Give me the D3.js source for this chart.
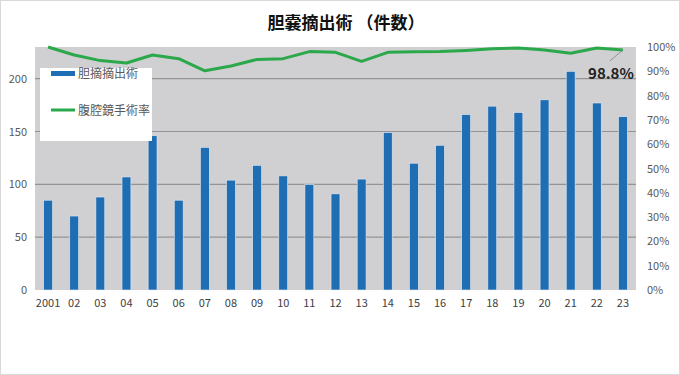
<!DOCTYPE html>
<html>
<head>
<meta charset="utf-8">
<script src="https://cdn.jsdelivr.net/npm/d3@7"></script>
<style>
  html, body { margin: 0; padding: 0; background: #fff; }
  svg { display: block; }
  text { font-family: "Noto Sans CJK JP", "Noto Sans", sans-serif; }
</style>
</head>
<body>
<svg id="chart" width="680" height="375"></svg>
<script>
// data
const years = ["2001","02","03","04","05","06","07","08","09","10","11","12",
               "13","14","15","16","17","18","19","20","21","22","23"];
const cases = [85, 70, 88, 107, 146, 85, 135, 104, 118, 108, 100, 91,
               105, 149, 120, 137, 166, 174, 168, 180, 207, 177, 164];
const laparoRate = [100, 96.7, 94.4, 93.4, 96.7, 95.2, 90.2, 92.2, 94.9, 95.2, 98.1, 97.8,
                    94.1, 97.8, 98.0, 98.1, 98.6, 99.3, 99.6, 98.8, 97.4, 99.6, 98.8];
const leftTicks = [0, 50, 100, 150, 200];
const rightTicks = [0, 10, 20, 30, 40, 50, 60, 70, 80, 90, 100];
const legendNames = ["胆摘摘出術", "腹腔鏡手術率"];

const svg = d3.select("#chart");
const W = 680, H = 375;
const plot = { left: 35, right: 636, top: 47, bottom: 290 };

// outer frame
svg.append("rect")
  .attr("x", 0.5).attr("y", 0.5)
  .attr("width", W - 1).attr("height", H - 1)
  .attr("fill", "#fff").attr("stroke", "#d9d9d9");

// title
svg.append("text")
  .attr("x", 346).attr("y", 29)
  .attr("text-anchor", "middle")
  .attr("font-size", 17).attr("font-weight", "bold")
  .attr("fill", "#111")
  .text("胆嚢摘出術 （件数）");

// scales
const x = d3.scaleBand().domain(years).range([plot.left, plot.right]);
const yL = d3.scaleLinear().domain([0, 230]).range([plot.bottom, plot.top]);
const yR = d3.scaleLinear().domain([0, 100]).range([plot.bottom, plot.top]);

// plot background
svg.append("rect")
  .attr("x", plot.left).attr("y", plot.top)
  .attr("width", plot.right - plot.left).attr("height", plot.bottom - plot.top)
  .attr("fill", "#d0d0d2");

// gridlines (left axis)
svg.selectAll(".grid")
  .data(leftTicks.filter(d => d > 0))
  .enter().append("line")
  .attr("x1", plot.left).attr("x2", plot.right)
  .attr("y1", d => yL(d)).attr("y2", d => yL(d))
  .attr("stroke", "#939393").attr("stroke-width", 1.2);

// left axis
const axL = svg.append("g")
  .attr("transform", `translate(${plot.left},0)`)
  .call(d3.axisLeft(yL).tickValues(leftTicks).tickSize(0).tickPadding(8));
axL.select(".domain").remove();
axL.selectAll("text").attr("font-size", 11).attr("fill", "#595959")
  .attr("font-family", "'Liberation Sans', sans-serif");

// right axis
const axR = svg.append("g")
  .attr("transform", `translate(${plot.right},0)`)
  .call(d3.axisRight(yR).tickValues(rightTicks).tickFormat(d => d + "%").tickSize(0).tickPadding(11));
axR.select(".domain").remove();
axR.selectAll("text").attr("font-size", 11).attr("fill", "#595959")
  .attr("font-family", "'Liberation Sans', sans-serif");

// bottom axis
const axB = svg.append("g")
  .attr("transform", `translate(0,${plot.bottom})`)
  .call(d3.axisBottom(x).tickSize(0).tickPadding(9));
axB.select(".domain").remove();
axB.selectAll("text").attr("font-size", 11).attr("fill", "#404040")
  .attr("font-family", "'Liberation Sans', sans-serif");

// bars
const barW = x.bandwidth() * 0.34;
svg.selectAll(".bar")
  .data(cases)
  .enter().append("rect")
  .attr("x", (d, i) => x(years[i]) + x.bandwidth() / 2 - barW / 2)
  .attr("y", d => yL(d))
  .attr("width", barW)
  .attr("height", d => plot.bottom - yL(d))
  .attr("fill", "#1f6db3")
  .attr("stroke", "#e6e9ee").attr("stroke-width", 0.6);

// rate line
const line = d3.line()
  .x((d, i) => x(years[i]) + x.bandwidth() / 2)
  .y(d => yR(d));
svg.append("path")
  .datum(laparoRate)
  .attr("d", line)
  .attr("fill", "none")
  .attr("stroke", "#2aa84a")
  .attr("stroke-width", 3)
  .attr("stroke-linejoin", "round");

// last-point label with leader
const last = laparoRate.length - 1;
const lx = x(years[last]) + x.bandwidth() / 2;
const ly = yR(laparoRate[last]);
svg.append("line")
  .attr("x1", lx).attr("y1", ly)
  .attr("x2", lx - 13).attr("y2", ly + 11)
  .attr("stroke", "#808080").attr("stroke-width", 0.8);
svg.append("text")
  .attr("x", lx + 11).attr("y", ly + 29)
  .attr("text-anchor", "end")
  .attr("font-size", 15).attr("font-weight", 600).attr("fill", "#222")
  .attr("font-family", "'Open Sans', 'Noto Sans', sans-serif")
  .text(laparoRate[last].toFixed(1) + "%");

// legend
const lg = svg.append("g").attr("transform", "translate(40,68)");
lg.append("rect").attr("width", 112).attr("height", 73).attr("fill", "#fff");
lg.append("rect").attr("x", 11).attr("y", 3).attr("width", 24).attr("height", 5).attr("fill", "#1f6db3");
lg.append("line").attr("x1", 11).attr("x2", 35).attr("y1", 42).attr("y2", 42)
  .attr("stroke", "#2aa84a").attr("stroke-width", 3);
lg.selectAll(".lt")
  .data(legendNames)
  .enter().append("text")
  .attr("x", 38)
  .attr("y", (d, i) => i === 0 ? 10 : 47)
  .attr("font-size", 12).attr("fill", "#595959")
  .text(d => d);
</script>
</body>
</html>
